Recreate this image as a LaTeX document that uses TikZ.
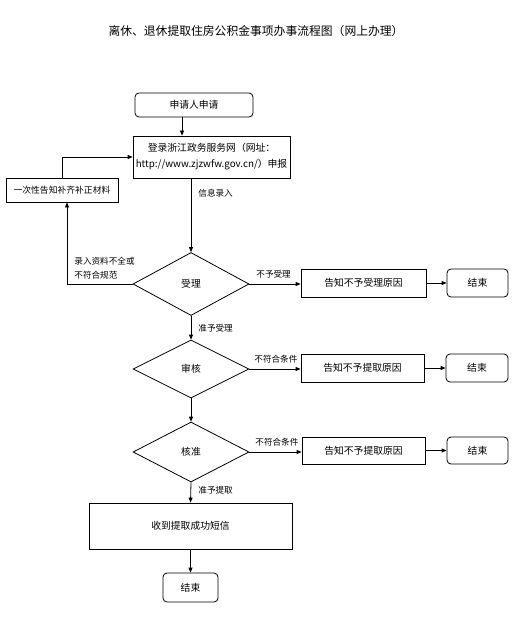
\documentclass[tikz,border=0pt]{standalone}
\usepackage{fontspec}
\setmainfont{Noto Sans CJK SC}
\usetikzlibrary{shapes.geometric,arrows.meta,calc}
\begin{document}
\begin{tikzpicture}[x=1pt,y=-1pt,
  line width=0.8pt,
  box/.style={draw,inner sep=0pt,align=center,font=\fontsize{9.8}{16}\selectfont},
  rbox/.style={box,rounded corners=4pt},
  dia/.style={draw,diamond,inner sep=0pt,minimum width=116pt,font=\fontsize{9.8}{12}\selectfont},
  lbl/.style={inner sep=0pt,anchor=west,font=\fontsize{8.6}{14}\selectfont,align=left},
  arr/.style={-{Triangle[length=5pt,width=4pt]}}]
\useasboundingbox (0,0) rectangle (524,631);
\fill[white] (0,0) rectangle (524,631);
\node[inner sep=0pt,font=\fontsize{11.8}{14}\selectfont] (title) at (256,31) {离休、退休提取住房公积金事项办事流程图（网上办理）};
\node[rbox,minimum width=118pt,minimum height=24pt] (start) at (194,105) {申请人申请};
\node[box,minimum width=157pt,minimum height=42pt] (login) at (211.5,157) {登录浙江政务服务网（网址：\\http://www.zjzwfw.gov.cn/）申报};
\node[box,minimum width=112pt,minimum height=24pt,font=\fontsize{8.8}{12}\selectfont] (left) at (62,190) {一次性告知补齐补正材料};
\node[dia,minimum height=63pt] (d1) at (191,284) {受理};
\node[box,minimum width=125pt,minimum height=28pt] (r1) at (363.5,283) {告知不予受理原因};
\node[rbox,minimum width=61pt,minimum height=28pt] (e1) at (477.5,283) {结束};
\node[dia,minimum height=58pt] (d2) at (191,369) {审核};
\node[box,minimum width=123pt,minimum height=28pt] (r2) at (362.5,368) {告知不予提取原因};
\node[rbox,minimum width=62pt,minimum height=28pt] (e2) at (477,368) {结束};
\node[dia,minimum height=60pt] (d3) at (191,452) {核准};
\node[box,minimum width=123pt,minimum height=27pt] (r3) at (363.5,450.5) {告知不予提取原因};
\node[rbox,minimum width=61pt,minimum height=27pt] (e3) at (477.5,450.5) {结束};
\node[box,minimum width=203pt,minimum height=46pt] (ok) at (190.5,526) {收到提取成功短信};
\node[rbox,minimum width=55pt,minimum height=29pt] (end) at (190.5,587.5) {结束};
\coordinate (c182) at (182,0);
\coordinate (c67) at (67,0);
\draw[arr] (start.south -| c182) -- (login.north -| c182);
\draw[arr] (login.south -| d1.north) -- (d1.north);
\draw[arr] (d1.west) -| (c67 |- left.south);
\draw[arr] (left.north) |- (login.west);
\draw[arr] (d1.east) -- (d1.east -| r1.west);
\draw[arr] (r1.east) -- (e1.west);
\draw[arr] (d1.south) -- (d2.north);
\draw[arr] (d2.east) -- (d2.east -| r2.west);
\draw[arr] (r2.east) -- (e2.west);
\draw[arr] (d2.south) -- (d3.north);
\draw[arr] (d3.east) -- (d3.east -| r3.west);
\draw[arr] (r3.east) -- (e3.west);
\draw[arr] (d3.south) -- (ok.north);
\draw[arr] (ok.south) -- (end.north);
\node[lbl] (l1) at (198,193) {信息录入};
\node[lbl] (l2) at (74,268) {录入资料不全或\\不符合规范};
\node[lbl] (l3) at (256,274) {不予受理};
\node[lbl] (l4) at (198,328) {准予受理};
\node[lbl] (l5) at (254,359) {不符合条件};
\node[lbl] (l6) at (255,442) {不符合条件};
\node[lbl] (l7) at (198,490) {准予提取};
\end{tikzpicture}
\end{document}
